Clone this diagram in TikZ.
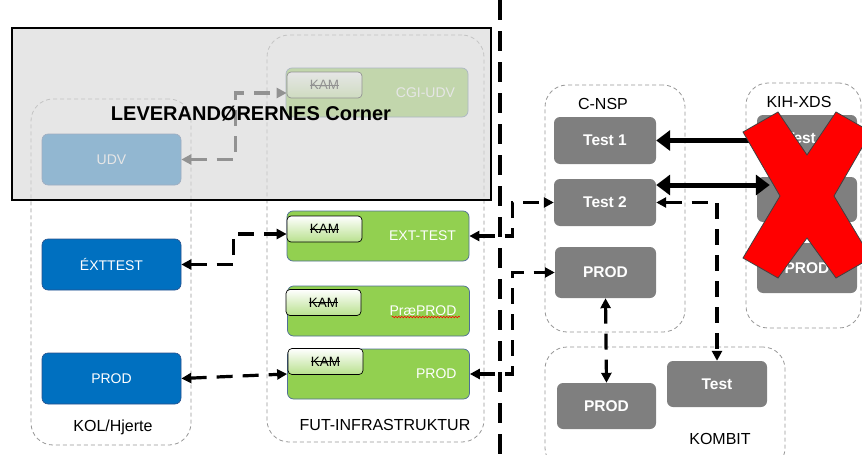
\documentclass[tikz,border=0pt]{standalone}
\usepackage{fontspec}
\setmainfont{Liberation Sans}
\usetikzlibrary{arrows.meta,decorations.pathmorphing}
\newcommand\mystrike[1]{\setbox0\hbox{#1}\rlap{\rule[0.3em]{\wd0}{0.07em}}\box0}
\definecolor{kblue}{RGB}{0,112,192}
\definecolor{kbluedark}{RGB}{40,80,140}
\definecolor{kgreen}{RGB}{146,208,80}
\definecolor{kgreenborder}{RGB}{80,110,150}
\definecolor{kgray}{RGB}{127,127,127}
\definecolor{contgray}{RGB}{150,150,150}
\definecolor{overlaygray}{RGB}{218,218,218}
\definecolor{kred}{RGB}{255,0,0}
\tikzset{
  container/.style={draw=contgray, dash pattern=on 4pt off 3pt, line width=0.8pt, rounded corners=22pt, rectangle, inner sep=0pt},
  contlabel/.style={font=\fontsize{16pt}{18pt}\selectfont, text=black, inner sep=0pt},
  bluebox/.style={rectangle, rounded corners=6pt, fill=kblue, draw=kbluedark, line width=0.6pt, text=white, font=\fontsize{14pt}{16pt}\selectfont, minimum width=139pt, minimum height=51pt, inner sep=0pt},
  greenbox/.style={rectangle, rounded corners=6pt, fill=kgreen, draw=kgreenborder, line width=0.7pt, text=white, font=\fontsize{14pt}{16pt}\selectfont, align=right, text width=156pt, inner xsep=13pt, inner ysep=0pt, minimum height=50pt},
  kambox/.style={rectangle, rounded corners=4pt, draw=black, line width=0.7pt, top color=white, bottom color=kgreen!65, font=\fontsize{13.5pt}{15pt}\selectfont, minimum width=75pt, minimum height=26pt, inner sep=0pt},
  graybox/.style={rectangle, rounded corners=6pt, fill=kgray, text=white, font=\bfseries\fontsize{15.5pt}{17pt}\selectfont, inner sep=0pt},
  dconn/.style={line width=3.2pt, dash pattern=on 16pt off 10pt, {Triangle[length=10pt,width=10pt]}-{Triangle[length=10pt,width=10pt]}},
  thickarr/.style={line width=5pt, -{Triangle[length=14pt,width=20pt]}},
  divider/.style={line width=4.5pt, dash pattern=on 20pt off 11pt},
}
\begin{document}
\begin{tikzpicture}[x=1pt,y=-1pt]
\useasboundingbox (0,0) rectangle (862,455);

% containers
\node[container, minimum width=160pt, minimum height=346pt] (kol) at (111,272) {};
\node[container, minimum width=217pt, minimum height=407pt] (fut) at (375.5,238.5) {};
\node[container, minimum width=140pt, minimum height=247pt] (cnsp) at (615,208.5) {};
\node[container, minimum width=115pt, minimum height=245pt] (kih) at (803.5,205.5) {};
\node[container, minimum width=240pt, minimum height=123pt] (kombit) at (665,408.5) {};
\node[contlabel] (kollbl) at (113,427) {KOL/Hjerte};
\node[contlabel] (futlbl) at (385,425) {FUT-INFRASTRUKTUR};
\node[contlabel] (cnsplbl) at (603,104) {C-NSP};
\node[contlabel] (kihlbl) at (799,102) {KIH-XDS};
\node[contlabel] (kombitlbl) at (720,439) {KOMBIT};

% faded (vendor corner) elements
\node[bluebox] (udv) at (111.5,159.5) {UDV};
\node[greenbox, minimum height=49pt] (cgi) at (377,92.5) {CGI-UDV};
\node[kambox] (fkam) at (324.5,85) {\mystrike{KAM}};
\draw[dconn] (udv.east) -- ++(54,0) |- ([yshift=-8pt]fkam.west);

% overlay
\node[rectangle, minimum width=479pt, minimum height=172pt, inner sep=0pt, fill=overlaygray, fill opacity=0.67, draw=black, line width=1.2pt] (corner) at (251.5,114) {};
\node[font=\bfseries\fontsize{20pt}{22pt}\selectfont, inner sep=0pt] (cornertxt) at (251,114) {LEVERANDØRERNES Corner};

% divider
\coordinate (divtop) at (500,0);
\coordinate (divbot) at (500,460);
\draw[divider] (divtop) -- (divbot);

% KOL/Hjerte
\node[bluebox] (exttest) at (111.5,264.5) {ÉXTTEST};
\node[bluebox] (bprod) at (111.5,378.5) {PROD};

% FUT
\node[greenbox] (ext) at (378,236) {EXT-TEST};
\node[kambox] (ekam) at (324.5,229) {\mystrike{KAM}};
\node[greenbox] (pp) at (378.5,311) {PræPROD};
\node[kambox] (pkam) at (323.5,302.5) {\mystrike{KAM}};
\node[greenbox] (gprod) at (378.5,374) {PROD};
\node[kambox] (gkam) at (325.5,361.5) {\mystrike{KAM}};
\draw[kred, line width=0.6pt, decorate, decoration={snake, amplitude=0.8pt, segment length=3pt}] ([xshift=-78pt,yshift=-6pt]pp.east) -- ([xshift=-10pt,yshift=-6pt]pp.east);

% C-NSP
\node[graybox, minimum width=102pt, minimum height=47pt] (test1) at (605,140.5) {Test 1};
\node[graybox, minimum width=102pt, minimum height=47pt] (test2) at (605,202.5) {Test 2};
\node[graybox, minimum width=101pt, minimum height=51pt] (cprod) at (605.5,272.5) {PROD};

% KIH-XDS
\node[graybox, minimum width=100pt, minimum height=46pt] (k1) at (807,138) {Test 1};
\node[graybox, minimum width=100pt, minimum height=45pt] (k2) at (807,199.5) {Test 2};
\node[graybox, minimum width=100pt, minimum height=50pt] (kprod) at (807,268) {PROD};

% KOMBIT
\node[graybox, minimum width=100pt, minimum height=46pt] (ktest) at (717,384) {Test};
\node[graybox, minimum width=99pt, minimum height=46pt] (kbprod) at (606.5,406) {PROD};

% connectors
\draw[dconn] (exttest.east) -- ++(52,0) |- ([yshift=-5pt]ekam.west);
\draw[dconn] (bprod.east) -- (gprod.west);
\draw[dconn] (ext.east) -- ++(43,0) |- (test2.west);
\draw[dconn] (gprod.east) -- ++(43,0) |- (cprod.west);
\draw[dconn] (cprod.south) -- (kbprod.north);
\draw[dconn] (test2.east) -| (ktest.north);
\draw[thickarr] (k1.west |- test1.east) -- (test1.east);
\draw[thickarr, {Triangle[length=14pt,width=20pt]}-{Triangle[length=14pt,width=20pt]}] ([yshift=17.5pt]test2.east) -- ([xshift=13pt,yshift=14.5pt]k2.west);

% red cross
\fill[kred, draw=black!75, line width=0.8pt] (743,132) -- (778,112) -- (807,155) -- (836,112) -- (871,132) -- (834,196) -- (871,258) -- (836,278) -- (807,238) -- (778,278) -- (743,258) -- (780,196) -- cycle;
\end{tikzpicture}
\end{document}
